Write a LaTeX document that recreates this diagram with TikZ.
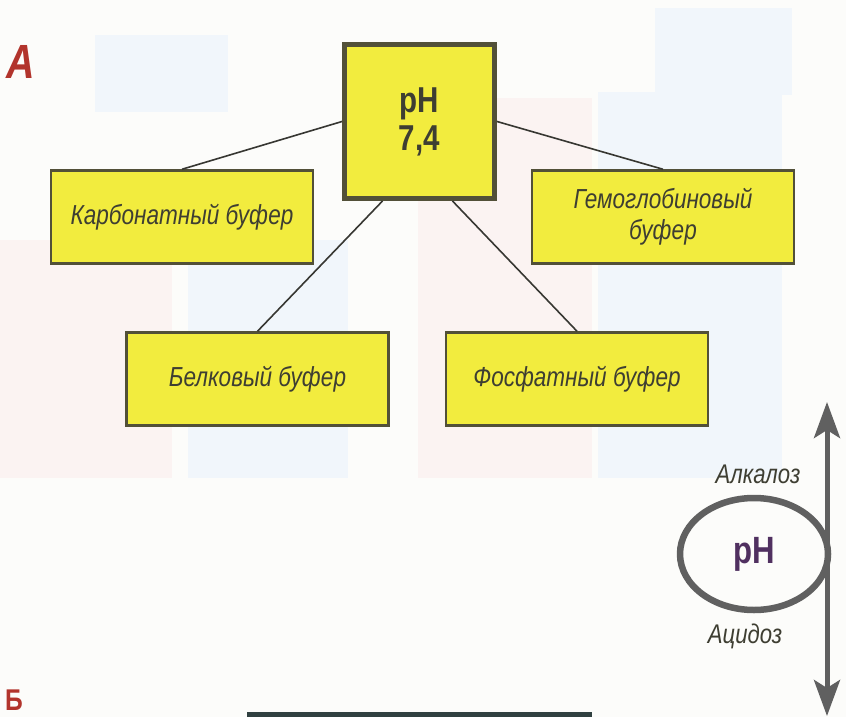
\documentclass[tikz,border=0pt]{standalone}
\usepackage{fontspec}
\setmainfont{Liberation Sans}
\newfontfamily\condfont{Liberation Sans}[FakeStretch=0.82]
\usetikzlibrary{arrows.meta,shapes.geometric}
\definecolor{paper}{RGB}{252,252,250}
\definecolor{ghostpink}{RGB}{251,243,242}
\definecolor{ghostblue}{RGB}{241,246,251}
\definecolor{bufyellow}{RGB}{242,236,62}
\definecolor{bufedge}{RGB}{82,80,56}
\definecolor{bufink}{RGB}{62,62,50}
\definecolor{linkgray}{RGB}{55,55,50}
\definecolor{phpurple}{RGB}{80,48,96}
\definecolor{axisgray}{RGB}{96,96,96}
\definecolor{letterred}{RGB}{178,52,44}
\definecolor{barslate}{RGB}{48,64,64}

\begin{document}
\begin{tikzpicture}[x=1pt,y=-1pt,font=\condfont]
	\tikzstyle{buffer}=[draw=bufedge,line width=2.5pt,fill=bufyellow,text=bufink,
		minimum width=262,minimum height=93,align=center,inner sep=2pt,
		font=\condfont\itshape\fontsize{27.5}{31}\selectfont]
	\tikzstyle{link}=[draw=linkgray,line width=1.6pt]
	\tikzstyle{phshift}=[text=bufink,font=\condfont\itshape\fontsize{27}{30}\selectfont]
	
	\useasboundingbox (0,0) rectangle (846,717);
	\clip (0,0) rectangle (846,717);
	\fill[paper] (0,0) rectangle (846,717);
	
	% faint show-through of the facing page
	\fill[ghostblue] (95,35) rectangle (228,112);
	\fill[ghostblue] (655,8) rectangle (792,95);
	\fill[ghostpink] (0,240) rectangle (172,478);
	\fill[ghostblue] (188,240) rectangle (348,478);
	\fill[ghostpink] (418,98) rectangle (592,478);
	\fill[ghostblue] (598,92) rectangle (782,478);
	
	\node[draw=bufedge,line width=5pt,fill=bufyellow,text=bufink,
		minimum width=150,minimum height=154,align=center,
		font=\condfont\bfseries\fontsize{36}{38}\selectfont] (ph) at (419.5,121.5) {pH\\7,4};
	
	\node[buffer] (carb) at (182,217) {Карбонатный буфер};
	\node[buffer] (hemo) at (663,217) {Гемоглобиновый\\буфер};
	\node[buffer] (prot) at (257.5,379) {Белковый буфер};
	\node[buffer] (phos) at (577,379) {Фосфатный буфер};
	
	\path[link]
	(ph.west) edge (carb.north)
	(ph.east) edge (hemo.north)
	([xshift=-37pt]ph.south) edge (prot.north)
	([xshift=33pt]ph.south) edge (phos.north);
	
	% pH shift axis
	\coordinate (axtop) at (827,402);
	\coordinate (axbot) at (827,716);
	\draw[axisgray,line width=5pt,
		arrows={Stealth[length=36pt,width=26pt,inset=8pt]-Stealth[length=36pt,width=26pt,inset=8pt]}]
		(axbot) -- (axtop);
	\node[draw=axisgray,line width=6.5pt,ellipse,minimum width=148,minimum height=112,
		text=phpurple,font=\condfont\bfseries\fontsize{38}{40}\selectfont] (ring) at (754,554) {\raisebox{-3pt}{pH}};
	\node[phshift] (alk) at (758,474) {Алкалоз};
	\node[phshift] (acid) at (745,636) {Ацидоз};
	
	% part letters and the bar that opens part B
	\node[text=letterred,font=\condfont\bfseries\itshape\fontsize{48}{50}\selectfont] (partA) at (21,62) {А};
	\node[text=letterred,font=\condfont\bfseries\fontsize{30}{32}\selectfont,
		anchor=base west,inner sep=0pt] (partB) at (5,710) {Б};
	\fill[barslate] (247,712) rectangle (592,722);
\end{tikzpicture}
\end{document}
